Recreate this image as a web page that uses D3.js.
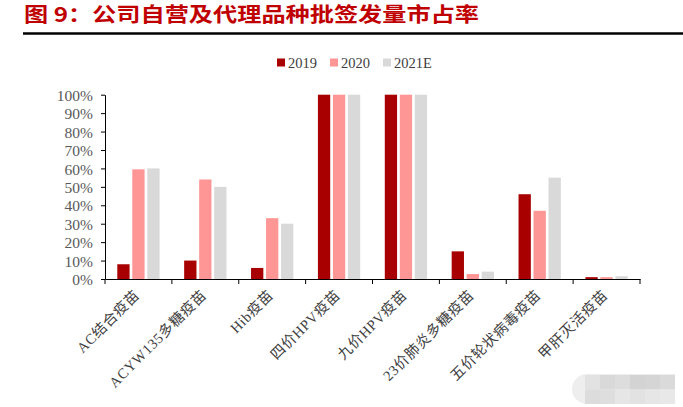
<!DOCTYPE html>
<html><head><meta charset="utf-8">
<script src="https://cdn.jsdelivr.net/npm/d3@7"></script>
<style>body{margin:0;background:#fff;}svg{display:block;}</style>
</head><body>
<svg id="chart" width="683" height="407"></svg>
<script>
const categories = ["AC结合疫苗","ACYW135多糖疫苗","Hib疫苗","四价HPV疫苗","九价HPV疫苗","23价肺炎多糖疫苗","五价轮状病毒疫苗","甲肝灭活疫苗"];
const seriesNames = ["2019","2020","2021E"];
const values2019 = [8, 10, 6, 100, 100, 15, 46, 1];
const values2020 = [59.5, 54, 33, 100, 100, 2.7, 37, 1];
const values2021E = [60, 50, 30, 100, 100, 4, 55, 1.5];
const yTicks = [0,10,20,30,40,50,60,70,80,90,100];
const colors = ["#A80000","#FF9696","#D9D9D9"];
const titleText = "图 9：公司自营及代理品种批签发量市占率";

const allValues = [values2019, values2020, values2021E];
const svg = d3.select("#chart");

// title
svg.append("text").attr("x", 24).attr("y", 22)
  .attr("font-family", "'Noto Sans CJK SC', sans-serif").attr("font-weight", "bold")
  .attr("font-size", 20).attr("fill", "#C00000")
  .attr("textLength", 455).attr("lengthAdjust", "spacingAndGlyphs")
  .text(titleText);
svg.append("line").attr("x1", 23).attr("x2", 683).attr("y1", 33.5).attr("y2", 33.5)
  .attr("stroke", "#000").attr("stroke-width", 2.5);

const plotLeft = 105, plotRight = 640, plotTop = 94.7, plotBottom = 279;
const x0 = d3.scaleBand().domain(categories).range([plotLeft, plotRight]).padding(0);
const x1 = d3.scaleBand().domain(seriesNames).range([0, 42.3]).paddingInner(0.18).paddingOuter(0);
const y = d3.scaleLinear().domain([0, 100]).range([plotBottom, plotTop]);
const groupOffset = (x0.bandwidth() - 42.3) / 2;

// bars
seriesNames.forEach((s, si) => {
  svg.append("g").selectAll("rect").data(categories).join("rect")
    .attr("x", (c) => x0(c) + groupOffset + x1(s))
    .attr("y", (c, i) => y(allValues[si][i]))
    .attr("width", x1.bandwidth())
    .attr("height", (c, i) => plotBottom - y(allValues[si][i]))
    .attr("fill", colors[si]);
});

// y axis
const yAxis = svg.append("g").attr("transform", `translate(${plotLeft},0)`)
  .call(d3.axisLeft(y).tickValues(yTicks).tickFormat(d => d + "%").tickSize(4).tickSizeOuter(0));
yAxis.select(".domain").attr("stroke", "#000");
yAxis.selectAll(".tick line").attr("stroke", "#000");
yAxis.selectAll("text").attr("font-family", "'Liberation Serif', serif").attr("font-size", 15.5)
  .attr("fill", "#595959").attr("x", -12).attr("dy", "0.36em");

// x axis
const xAxis = svg.append("g").attr("transform", `translate(0,${plotBottom})`)
  .call(d3.axisBottom(x0).tickSize(0).tickSizeOuter(0).tickFormat(""));
xAxis.select(".domain").attr("stroke", "#000").attr("stroke-width", 1.2);
const bounds = categories.map(c => x0(c)).concat([plotRight]);
svg.append("g").selectAll("line").data(bounds).join("line")
  .attr("x1", d => d).attr("x2", d => d).attr("y1", plotBottom).attr("y2", plotBottom + 5)
  .attr("stroke", "#000");

// x labels
svg.append("g").selectAll("text").data(categories).join("text")
  .attr("transform", c => `translate(${x0(c) + x0.bandwidth() / 2 + 2},${plotBottom + 17}) rotate(-45)`)
  .attr("text-anchor", "end")
  .attr("font-family", "'Liberation Serif', 'Noto Sans CJK SC', serif")
  .attr("font-size", 14.5).attr("letter-spacing", 0.6).attr("fill", "#404040")
  .text(c => c);

// legend
const legendX = [277, 330, 383];
seriesNames.forEach((s, i) => {
  svg.append("rect").attr("x", legendX[i]).attr("y", 58.5).attr("width", 8).attr("height", 8).attr("fill", colors[i]);
  svg.append("text").attr("x", legendX[i] + 11).attr("y", 67.5)
    .attr("font-family", "'Liberation Serif', serif").attr("font-size", 14.5)
    .attr("fill", "#404040").text(s);
});

// blurred watermark at bottom right
const wm = svg.append("g");
wm.append("path").attr("d", "M587,374 H675 V404 H587 A15,15 0 0 1 587,374 Z").attr("fill", "#eeeeee");
const wmShades = [["#e2e2e2","#d9d9d9","#dddddd","#d3d3d3","#d5d5d5","#dadada"],["#dcdcdc","#dedede","#e6e6e6","#e2e2e2","#e6e6e6","#e8e8e8"]];
wmShades.forEach((row, r) => row.forEach((c, k) => {
  wm.append("rect").attr("x", 585 + k * 15).attr("y", 375 + r * 14.5).attr("width", 15).attr("height", 14.5).attr("fill", c);
}));
</script>
</body></html>
